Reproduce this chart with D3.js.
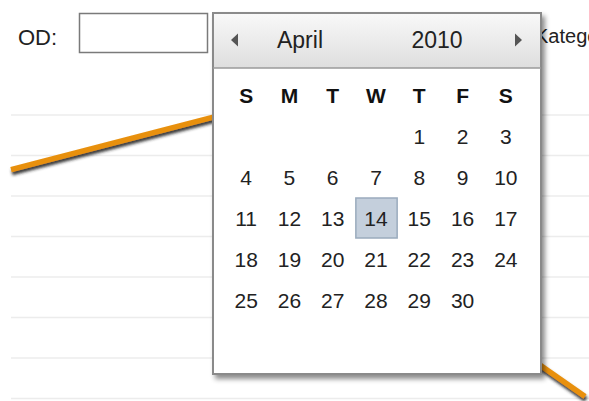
<!DOCTYPE html>
<html>
<head>
<meta charset="utf-8">
<script src="https://cdn.jsdelivr.net/npm/d3@7"></script>
<style>
  body { margin: 0; padding: 0; background: #fff; }
  svg { display: block; font-family: "Liberation Sans", Arial, sans-serif; }
</style>
</head>
<body>
<script>
// chart behind the picker
const categories = ["Jan", "Feb", "Mar", "Apr", "May"]
const values = [56.5, 65.7, 74.9, 25.2, 0.5]
const gridTicks = [0, 10, 20, 30, 40, 50, 60, 70]

// date picker
const monthName = "April"
const yearLabel = "2010"
const weekdays = ["S", "M", "T", "W", "T", "F", "S"]
const selectedDay = 14
const fieldLabel = "OD:"
const nextLabel = "Kategorie:"

const width = 589
const height = 401

const svg = d3.select("body").append("svg")
  .attr("width", width)
  .attr("height", height)

const defs = svg.append("defs")

defs.append("filter")
  .attr("id", "lineShadow")
  .attr("x", "-10%").attr("y", "-50%")
  .attr("width", "120%").attr("height", "200%")
  .append("feDropShadow")
  .attr("dx", 1).attr("dy", 3)
  .attr("stdDeviation", 1.5)
  .attr("flood-color", "#222")
  .attr("flood-opacity", 0.9)

defs.append("filter")
  .attr("id", "boxShadow")
  .attr("x", "-10%").attr("y", "-10%")
  .attr("width", "120%").attr("height", "120%")
  .append("feDropShadow")
  .attr("dx", 3).attr("dy", 4)
  .attr("stdDeviation", 2.5)
  .attr("flood-color", "#000")
  .attr("flood-opacity", 0.45)

const headGrad = defs.append("linearGradient")
  .attr("id", "headGrad")
  .attr("x1", 0).attr("y1", 0).attr("x2", 0).attr("y2", 1)
headGrad.append("stop").attr("offset", 0).attr("stop-color", "#f8f8f8")
headGrad.append("stop").attr("offset", 1).attr("stop-color", "#dedede")

// ---- chart ----
const x = d3.scalePoint()
  .domain(categories)
  .range([11, 585])

const y = d3.scaleLinear()
  .domain([0, 70])
  .range([398.5, 115])

svg.append("g")
  .selectAll("line")
  .data(gridTicks)
  .join("line")
  .attr("x1", 11)
  .attr("x2", width)
  .attr("y1", d => y(d))
  .attr("y2", d => y(d))
  .attr("stroke", "#ececec")
  .attr("stroke-width", 1.5)

const line = d3.line()
  .x((d, i) => x(categories[i]))
  .y(d => y(d))

svg.append("path")
  .datum(values)
  .attr("d", line)
  .attr("fill", "none")
  .attr("stroke", "#e8900c")
  .attr("stroke-width", 5.5)
  .attr("filter", "url(#lineShadow)")

// ---- form row ----
svg.append("text")
  .attr("x", 18)
  .attr("y", 45)
  .attr("font-size", 22)
  .attr("fill", "#222")
  .text(fieldLabel)

svg.append("rect")
  .attr("x", 79.5)
  .attr("y", 13.5)
  .attr("width", 128)
  .attr("height", 39)
  .attr("fill", "#fff")
  .attr("stroke", "#7a7a7a")
  .attr("stroke-width", 1.5)

svg.append("text")
  .attr("x", 535)
  .attr("y", 43)
  .attr("font-size", 20)
  .attr("fill", "#222")
  .text(nextLabel)

// ---- date picker popup ----
const pop = { x: 213, y: 13, w: 328, h: 361, head: 55 }
const picker = svg.append("g")

picker.append("rect")
  .attr("x", pop.x)
  .attr("y", pop.y)
  .attr("width", pop.w)
  .attr("height", pop.h)
  .attr("fill", "#fff")
  .attr("stroke", "#8a8a8a")
  .attr("stroke-width", 2)
  .attr("filter", "url(#boxShadow)")

picker.append("rect")
  .attr("x", pop.x + 1)
  .attr("y", pop.y + 1)
  .attr("width", pop.w - 2)
  .attr("height", pop.head - 1)
  .attr("fill", "url(#headGrad)")

picker.append("line")
  .attr("x1", pop.x)
  .attr("x2", pop.x + pop.w)
  .attr("y1", pop.y + pop.head)
  .attr("y2", pop.y + pop.head)
  .attr("stroke", "#9a9a9a")
  .attr("stroke-width", 1.5)

const midY = pop.y + 27
picker.append("path")
  .attr("d", `M${pop.x + 18},${midY} L${pop.x + 25},${midY - 6.5} L${pop.x + 25},${midY + 6.5} Z`)
  .attr("fill", "#555")
picker.append("path")
  .attr("d", `M${pop.x + pop.w - 19},${midY} L${pop.x + pop.w - 26},${midY - 6.5} L${pop.x + pop.w - 26},${midY + 6.5} Z`)
  .attr("fill", "#555")

picker.append("text")
  .attr("x", 300)
  .attr("y", midY + 8)
  .attr("text-anchor", "middle")
  .attr("font-size", 23)
  .attr("fill", "#222")
  .text(monthName)

picker.append("text")
  .attr("x", 437)
  .attr("y", midY + 8)
  .attr("text-anchor", "middle")
  .attr("font-size", 23)
  .attr("fill", "#222")
  .text(yearLabel)

const col = d3.scaleBand()
  .domain(d3.range(7))
  .range([224.5, 527.5])

const row = d3.scaleBand()
  .domain(d3.range(6))
  .range([74.5, 320.5])

picker.append("g")
  .selectAll("text")
  .data(weekdays)
  .join("text")
  .attr("x", (d, i) => col(i) + col.bandwidth() / 2)
  .attr("y", row(0) + row.bandwidth() / 2 + 7.5)
  .attr("text-anchor", "middle")
  .attr("font-size", 21)
  .attr("font-weight", "bold")
  .attr("fill", "#111")
  .text(d => d)

const year = +yearLabel
const monthIndex = 3
const first = new Date(year, monthIndex, 1)
const days = d3.timeDays(first, new Date(year, monthIndex + 1, 1))
const lead = first.getDay()
const cells = days.map((d, i) => ({
  day: d.getDate(),
  c: (lead + i) % 7,
  r: Math.floor((lead + i) / 7) + 1
}))

const sel = cells.find(d => d.day === selectedDay)
picker.append("rect")
  .attr("x", col(sel.c) + 1.5)
  .attr("y", row(sel.r) + 0.5)
  .attr("width", col.bandwidth() - 2)
  .attr("height", row.bandwidth() - 1)
  .attr("fill", "#c4cfdc")
  .attr("stroke", "#9aabbd")
  .attr("stroke-width", 1.5)

picker.append("g")
  .selectAll("text")
  .data(cells)
  .join("text")
  .attr("x", d => col(d.c) + col.bandwidth() / 2)
  .attr("y", d => row(d.r) + row.bandwidth() / 2 + 7.5)
  .attr("text-anchor", "middle")
  .attr("font-size", 21)
  .attr("fill", "#222")
  .text(d => d.day)
</script>
</body>
</html>
